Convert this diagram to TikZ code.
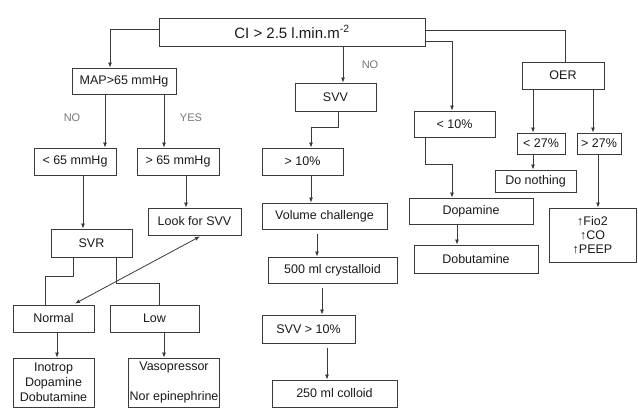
\documentclass[tikz,border=0pt]{standalone}
\usepackage{fontspec}
\setmainfont{Liberation Sans}
\usetikzlibrary{arrows.meta}
\definecolor{ln}{HTML}{3A3A3A}
\definecolor{lbl}{HTML}{777777}
\tikzset{
  bx/.style={draw=ln, line width=0.9pt, rectangle, inner sep=1pt, align=center,
    font=\fontsize{12.5}{15}\selectfont, text=black!90},
  conn/.style={draw=ln, line width=0.8pt},
  arr/.style={conn, -{Latex[length=5pt,width=4pt]}},
  darr/.style={conn, {Latex[length=5pt,width=4pt]}-{Latex[length=5pt,width=4pt]}},
  lab/.style={text=lbl, font=\fontsize{11}{13}\selectfont, inner sep=0pt}
}
\begin{document}
\begin{tikzpicture}[x=1pt,y=-1pt]
\useasboundingbox (0,0) rectangle (638,408);
% nodes
\node[bx, minimum width=266pt, minimum height=28pt, font=\fontsize{15}{18}\selectfont] (CI) at (292,32) {CI > 2.5 l.min.m\textsuperscript{-2}};
\node[bx, minimum width=104pt, minimum height=26pt] (MAP) at (124,81) {MAP>65 mmHg};
\node[bx, minimum width=82pt, minimum height=27pt] (lt65) at (75,161.5) {< 65 mmHg};
\node[bx, minimum width=82pt, minimum height=27pt] (gt65) at (178,161.5) {> 65 mmHg};
\node[bx, minimum width=81pt, minimum height=28pt] (SVR) at (91.5,243) {SVR};
\node[bx, minimum width=93pt, minimum height=27pt] (Look) at (194.5,221.5) {Look for SVV};
\node[bx, minimum width=81pt, minimum height=27pt] (Normal) at (53.5,318.5) {Normal};
\node[bx, minimum width=89pt, minimum height=27pt] (Low) at (154.5,318.5) {Low};
\node[bx, minimum width=81pt, minimum height=49pt] (Inotrop) at (53.5,382.5) {Inotrop\\Dopamine\\Dobutamine};
\node[bx, minimum width=88pt, minimum height=49pt] (Vaso) at (174,382.5) {Vasopressor\\[15pt]Nor epinephrine};
\node[bx, minimum width=81pt, minimum height=28pt] (SVV) at (335.5,97) {SVV};
\node[bx, minimum width=81pt, minimum height=27pt] (gt10) at (302.5,161.5) {> 10\%};
\node[bx, minimum width=125pt, minimum height=26pt] (Vol) at (324.5,216) {Volume challenge};
\node[bx, minimum width=129pt, minimum height=26pt] (c500) at (332.5,270) {500 ml crystalloid};
\node[bx, minimum width=93pt, minimum height=28pt] (SVVten) at (308.5,329) {SVV > 10\%};
\node[bx, minimum width=125pt, minimum height=27pt] (c250) at (334.5,393.5) {250 ml colloid};
\node[bx, minimum width=81pt, minimum height=26pt] (lt10) at (454.5,124) {< 10\%};
\node[bx, minimum width=124pt, minimum height=26pt] (Dopa) at (471,211) {Dopamine};
\node[bx, minimum width=124pt, minimum height=28pt] (Dobu) at (476,259) {Dobutamine};
\node[bx, minimum width=82pt, minimum height=27pt] (OER) at (563,75.5) {OER};
\node[bx, minimum width=48pt, minimum height=21pt] (lt27) at (541,143.5) {< 27\%};
\node[bx, minimum width=44pt, minimum height=21pt] (gt27) at (599,143.5) {> 27\%};
\node[bx, minimum width=81pt, minimum height=22pt] (Nothing) at (535.5,181) {Do nothing};
\node[bx, minimum width=87pt, minimum height=54pt, font=\fontsize{12.5}{14}\selectfont] (Fio) at (592.5,235) {↑Fio2\\↑CO\\↑PEEP};
% labels
\node[lab] (noA) at (72,118) {NO};
\node[lab] (yesA) at (191,118) {YES};
\node[lab] (noB) at (370,65) {NO};
% connectors
\draw[arr] ([yshift=3pt]CI.west) -| ([xshift=-14pt]MAP.north);
\draw[arr] ([xshift=-19pt]MAP.south) coordinate (m1) -- (m1 |- lt65.north);
\draw[arr] ([xshift=40pt]MAP.south) coordinate (m2) -- (m2 |- gt65.north);
\draw[arr] ([xshift=8pt]lt65.south) coordinate (l1) -- (l1 |- SVR.north);
\draw[arr] ([xshift=8pt]gt65.south) coordinate (g1) -- (g1 |- Look.north);
\draw[conn] ([xshift=-18.5pt]SVR.south) -- ++(0,19) -| ([xshift=-8.5pt]Normal.north);
\draw[conn] ([xshift=24.5pt]SVR.south) -- ++(0,26) -| ([xshift=4.5pt]Low.north);
\draw[darr] ([xshift=21.5pt,yshift=1pt]Normal.north) -- ([xshift=5.5pt,yshift=-1pt]Look.south);
\draw[arr] ([xshift=3.5pt]Normal.south) coordinate (n1) -- (n1 |- Inotrop.north);
\draw[arr] ([xshift=9.5pt]Low.south) coordinate (o1) -- (o1 |- Vaso.north);
\draw[arr] ([xshift=51pt]CI.south) coordinate (c1) -- (c1 |- SVV.north);
\draw[arr] ([xshift=2.5pt]SVV.south) -- ++(0,16) -| ([xshift=8.5pt]gt10.north);
\draw[arr] ([xshift=8.5pt]gt10.south) coordinate (t1) -- (t1 |- Vol.north);
\draw[arr] ([xshift=-7.5pt,yshift=-5pt]Vol.south) coordinate (v1) -- (v1 |- c500.north);
\draw[arr] ([xshift=-10.5pt,yshift=-5pt]c500.south) coordinate (p1) -- (p1 |- SVVten.north);
\draw[arr] ([xshift=18.5pt,yshift=-5pt]SVVten.south) coordinate (s1) -- (s1 |- c250.north);
\draw[arr] ([yshift=-9pt]CI.east) -| ([xshift=-2.5pt]lt10.north);
\draw[arr] ([xshift=-29.5pt]lt10.south) -- ++(0,27) -| ([xshift=-19pt]Dopa.north);
\draw[arr] ([xshift=-14pt]Dopa.south) coordinate (d1) -- (d1 |- Dobu.north);
\draw[conn] ([yshift=2pt]CI.east) -| ([xshift=2pt]OER.north);
\draw[arr] ([xshift=-30pt]OER.south) coordinate (e1) -- (e1 |- lt27.north);
\draw[arr] ([xshift=30pt]OER.south) coordinate (e2) -- (e2 |- gt27.north);
\draw[arr] ([xshift=-8pt]lt27.south) coordinate (k1) -- (k1 |- Nothing.north);
\draw[arr] ([xshift=-1pt]gt27.south) coordinate (k2) -- (k2 |- Fio.north);
\end{tikzpicture}
\end{document}
